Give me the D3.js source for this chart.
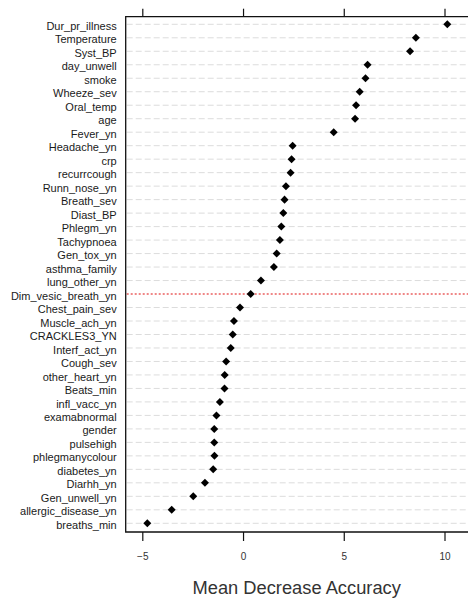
<!DOCTYPE html>
<html>
<head>
<meta charset="utf-8">
<script src="https://cdn.jsdelivr.net/npm/d3@7"></script>
<style>
  html, body { margin: 0; padding: 0; background: #fff; overflow: hidden; }
  svg { display: block; font-family: "Liberation Sans", Arial, sans-serif; }
</style>
</head>
<body>
<svg id="chart" width="468" height="604"></svg>
<script>
// Variable importance (mean decrease in accuracy), ordered top to bottom
const variables = [
  "Dur_pr_illness", "Temperature", "Syst_BP", "day_unwell", "smoke",
  "Wheeze_sev", "Oral_temp", "age", "Fever_yn", "Headache_yn",
  "crp", "recurrcough", "Runn_nose_yn", "Breath_sev", "Diast_BP",
  "Phlegm_yn", "Tachypnoea", "Gen_tox_yn", "asthma_family", "lung_other_yn",
  "Dim_vesic_breath_yn", "Chest_pain_sev", "Muscle_ach_yn", "CRACKLES3_YN", "Interf_act_yn",
  "Cough_sev", "other_heart_yn", "Beats_min", "infl_vacc_yn", "examabnormal",
  "gender", "pulsehigh", "phlegmanycolour", "diabetes_yn", "Diarhh_yn",
  "Gen_unwell_yn", "allergic_disease_yn", "breaths_min"
];
const importance = [
  10.14, 8.58, 8.29, 6.18, 6.08,
  5.79, 5.61, 5.56, 4.50, 2.46,
  2.41, 2.36, 2.13, 2.06, 2.00,
  1.90, 1.83, 1.67, 1.53, 0.89,
  0.38, -0.15, -0.45, -0.51, -0.61,
  -0.84, -0.91, -0.92, -1.15, -1.32,
  -1.43, -1.43, -1.42, -1.48, -1.89,
  -2.47, -3.54, -4.75
];
const xTicks = [-5, 0, 5, 10];
const cutoffVariable = "Dim_vesic_breath_yn";
const xTitle = "Mean Decrease Accuracy";

const svg = d3.select("#chart");

const box = { left: 125.7, top: 16.7, bottom: 532, right: 490 };

const x = d3.scaleLinear().domain([-5, 10]).range([142.3, 444.5]);
const y = d3.scalePoint()
  .domain(variables)
  .range([24.3, 523.3]);

// Dashed guide line for every variable; the cut-off row is drawn in red dots
svg.append("g")
  .selectAll("line")
  .data(variables)
  .join("line")
  .attr("x1", box.left + 1)
  .attr("x2", box.right)
  .attr("y1", d => y(d))
  .attr("y2", d => y(d))
  .attr("stroke", d => d === cutoffVariable ? "#e01010" : "#dcdcdc")
  .attr("stroke-width", d => d === cutoffVariable ? 1.1 : 1)
  .attr("stroke-dasharray", d => d === cutoffVariable ? "2,2" : "6,3");

// Variable names
svg.append("g")
  .selectAll("text")
  .data(variables)
  .join("text")
  .attr("x", 116.7)
  .attr("y", d => y(d) + 5.6)
  .attr("text-anchor", "end")
  .attr("font-size", 11)
  .attr("fill", "#1a1a1a")
  .text(d => d);

// Diamond markers
const diamond = d3.symbol().type(d3.symbolSquare).size(32);
svg.append("g")
  .selectAll("path")
  .data(variables.map((v, i) => ({ name: v, value: importance[i] })))
  .join("path")
  .attr("d", diamond)
  .attr("transform", d => `translate(${x(d.value)},${y(d.name)}) rotate(45)`)
  .attr("fill", "#000");

// Plot frame (right side runs past the visible edge)
svg.append("path")
  .attr("d", `M${box.right},${box.top}H${box.left}V${box.bottom}H${box.right}`)
  .attr("fill", "none")
  .attr("stroke", "#111")
  .attr("stroke-width", 1.3);

// Bottom axis
const bottomAxis = svg.append("g").attr("transform", `translate(0,${box.bottom})`);
bottomAxis.call(d3.axisBottom(x).tickValues(xTicks).tickSize(9).tickPadding(12).tickFormat(d3.format("d")));
bottomAxis.select(".domain").remove();
bottomAxis.selectAll(".tick line").attr("stroke", "#111").attr("stroke-width", 1.2);
bottomAxis.selectAll(".tick text")
  .attr("font-size", 10)
  .attr("fill", "#333")
  .attr("font-family", "Liberation Sans, Arial, sans-serif");

// Top axis (its labels sit above the page edge, only their feet show)
const topAxis = svg.append("g").attr("transform", `translate(0,${box.top})`);
topAxis.call(d3.axisTop(x).tickValues(xTicks).tickSize(8).tickPadding(12).tickFormat(d3.format("d")));
topAxis.select(".domain").remove();
topAxis.selectAll(".tick line").attr("stroke", "#111").attr("stroke-width", 1.2);
topAxis.selectAll(".tick text")
  .attr("font-size", 10)
  .attr("fill", "#ccc")
  .attr("font-family", "Liberation Sans, Arial, sans-serif");

// Axis title
svg.append("text")
  .attr("x", 296.7)
  .attr("y", 594)
  .attr("text-anchor", "middle")
  .attr("font-size", 18.3)
  .attr("fill", "#333")
  .text(xTitle);
</script>
</body>
</html>
